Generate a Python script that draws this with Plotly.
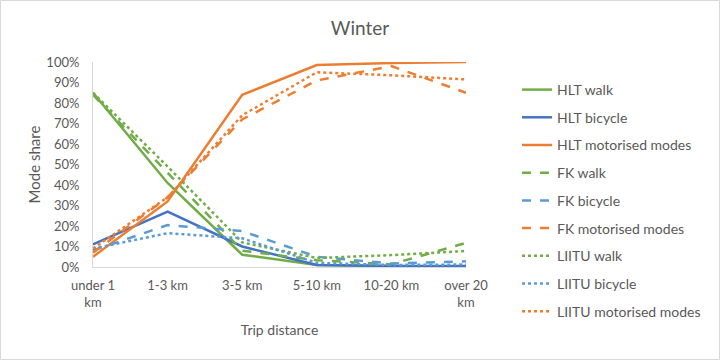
import plotly.graph_objects as go

categories = ["under 1<br>km", "1-3 km", "3-5 km", "5-10 km", "10-20 km", "over 20<br>km"]

hlt_walk = [0.85, 0.41, 0.06, 0.01, 0.005, 0.0]
hlt_bicycle = [0.11, 0.27, 0.10, 0.01, 0.005, 0.005]
hlt_motor = [0.05, 0.32, 0.84, 0.985, 0.995, 1.0]
fk_walk = [0.84, 0.46, 0.08, 0.033, 0.013, 0.118]
fk_bicycle = [0.08, 0.205, 0.175, 0.05, 0.017, 0.028]
fk_motor = [0.07, 0.34, 0.72, 0.91, 0.98, 0.85]
liitu_walk = [0.85, 0.49, 0.12, 0.044, 0.058, 0.078]
liitu_bicycle = [0.09, 0.165, 0.14, 0.02, 0.01, 0.012]
liitu_motor = [0.09, 0.34, 0.74, 0.95, 0.935, 0.915]

GREEN = "#70AD47"
BLUE = "#4472C4"
LBLUE = "#5B9BD5"
ORANGE = "#ED7D31"

series = [
    ("HLT walk", hlt_walk, GREEN, "solid"),
    ("HLT bicycle", hlt_bicycle, BLUE, "solid"),
    ("HLT motorised modes", hlt_motor, ORANGE, "solid"),
    ("FK walk", fk_walk, GREEN, "dash"),
    ("FK bicycle", fk_bicycle, LBLUE, "dash"),
    ("FK motorised modes", fk_motor, ORANGE, "dash"),
    ("LIITU walk", liitu_walk, GREEN, "dot"),
    ("LIITU bicycle", liitu_bicycle, LBLUE, "dot"),
    ("LIITU motorised modes", liitu_motor, ORANGE, "dot"),
]

fig = go.Figure()
for i, (name, vals, color, dash) in enumerate(series):
    fig.add_trace(go.Scatter(
        x=categories, y=vals, name=name, mode="lines",
        line=dict(color=color, width=2.5, dash=dash),
        legendgroup=f"g{i}",
    ))

FONT = "Lato, 'Open Sans', sans-serif"
GREY = "#595959"

L, R, T, B = 93, 466, 62, 267
W, H = 720, 360

def px_x(p):
    return (p - L) / (R - L)

def px_y(p):
    return (B - p) / (B - T)

fig.update_layout(
    width=W, height=H,
    margin=dict(l=L, r=W - R, t=T, b=H - B),
    paper_bgcolor="white", plot_bgcolor="white",
    font=dict(family=FONT, size=13, color=GREY),
    title=dict(text="Winter", x=0.5, xanchor="center", y=1 - 28 / H, yanchor="middle",
               font=dict(size=19, color=GREY, family=FONT)),
    showlegend=True,
    legend=dict(x=px_x(517), xanchor="left", y=px_y(74), yanchor="top",
                font=dict(size=14, color=GREY, family=FONT),
                tracegroupgap=6.5, bgcolor="rgba(0,0,0,0)", maxheight=340),
    xaxis=dict(
        range=[0, 5], showgrid=False, showline=True, linecolor="#D9D9D9", linewidth=1,
        ticks="", tickfont=dict(size=13, color=GREY), ticklabelstandoff=6,
        title=dict(text="Trip distance", font=dict(size=14, color=GREY), standoff=16),
        zeroline=False,
    ),
    yaxis=dict(
        range=[0, 1], tickformat=".0%", dtick=0.1, showgrid=False,
        showline=True, linecolor="#D9D9D9", linewidth=1, ticks="",
        tickfont=dict(size=13, color=GREY), ticklabelstandoff=10,
        title=dict(text="Mode share", font=dict(size=15, color=GREY), standoff=2),
        zeroline=False,
    ),
    shapes=[dict(type="rect", xref="paper", yref="paper",
                 x0=px_x(0.5), x1=px_x(719.5), y0=px_y(359.5), y1=px_y(0.5),
                 line=dict(color="#D9D9D9", width=1), layer="below")],
)

fig.write_html("out.html", config={"displayModeBar": False},
               post_script="document.body.style.margin='0';")
